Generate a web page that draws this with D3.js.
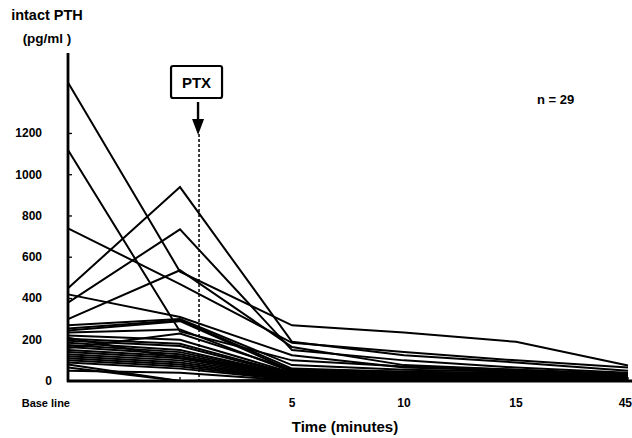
<!DOCTYPE html>
<html>
<head>
<meta charset="utf-8">
<script src="https://cdn.jsdelivr.net/npm/d3@7/dist/d3.min.js"></script>
<style>
  html, body { margin: 0; padding: 0; background: #fff; }
  svg { display: block; }
  text { font-family: "Liberation Sans", Arial, sans-serif; font-weight: bold; fill: #000; }
</style>
</head>
<body>
<svg id="chart" width="632" height="438"></svg>
<script>
// ---- data ----
const timeKeys = ["base", "intra", "5", "10", "15", "45"];
const timeLabels = ["Base line", "", "5", "10", "15", "45"];
const yTicks = [0, 200, 400, 600, 800, 1000, 1200];

// intact PTH (pg/ml) per patient: baseline, intra-op, 5, 10, 15, 45 min
const p01 = [1447, 530, 270, 235, 190, 75];
const p02 = [1120, 240, 100, 70, 55, 30];
const p03 = [740, 470, 185, 140, 100, 65];
const p04 = [450, 940, 190, 125, 90, 50];
const p05 = [380, 735, 150, 100, 65, 40];
const p06 = [300, 537, 165, 77, 55, 35];
const p07 = [420, 310, 125, 65, 50, 30];
const p08 = [270, 300, 77, 55, 45, 25];
const p09 = [255, 295, 60, 45, 35, 20];
const p10 = [245, 290, 50, 40, 30, 20];
const p11 = [235, 250, 45, 35, 30, 15];
const p12 = [220, 200, 40, 30, 25, 15];
const p13 = [205, 180, 35, 28, 22, 12];
const p14 = [195, 170, 30, 25, 20, 10];
const p15 = [185, 150, 28, 22, 18, 10];
const p16 = [175, 140, 25, 20, 15, 8];
const p17 = [165, 130, 22, 18, 14, 8];
const p18 = [150, 120, 20, 16, 12, 6];
const p19 = [140, 110, 18, 14, 10, 6];
const p20 = [130, 100, 15, 12, 10, 5];
const p21 = [120, 90, 12, 10, 8, 5];
const p22 = [110, 80, 10, 8, 6, 4];
const p23 = [100, 70, 8, 6, 5, 3];
const p24 = [90, 60, 6, 5, 4, 3];
const p25 = [80, 0, 5, 4, 3, 2];
const p26 = [65, 0, 4, 3, 2, 2];
const p27 = [50, 40, 3, 2, 2, 1];
const p28 = [160, 230, 55, 45, 40, 25];
const p29 = [210, 110, 42, 35, 28, 18];
const patients = [p01,p02,p03,p04,p05,p06,p07,p08,p09,p10,p11,p12,p13,p14,p15,
                  p16,p17,p18,p19,p20,p21,p22,p23,p24,p25,p26,p27,p28,p29];
const ptxIndex = 1.17; // PTX marker position between intra-op and 5 min

// ---- layout ----
const svg = d3.select("#chart");
const x = d3.scalePoint().domain(timeKeys).range([68, 628]);
const y = d3.scaleLinear().domain([0, 1590]).range([381, 53]);
const step = x.step();

// lines
const line = d3.line().x((d, i) => x(timeKeys[i])).y(d => y(d));
svg.append("g").selectAll("path").data(patients).join("path")
  .attr("d", line)
  .attr("fill", "none")
  .attr("stroke", "#000")
  .attr("stroke-width", 2)
  .attr("stroke-linejoin", "miter");

// y axis
const yAxis = svg.append("g");
yAxis.append("line").attr("x1", 68).attr("x2", 68).attr("y1", y(1590)).attr("y2", y(0) + 1)
  .attr("stroke", "#000").attr("stroke-width", 2.8);
yAxis.selectAll("line.t").data(yTicks.filter(d => d > 0)).join("line").attr("class", "t")
  .attr("x1", 68).attr("x2", 72).attr("y1", d => y(d)).attr("y2", d => y(d))
  .attr("stroke", "#000").attr("stroke-width", 1.3);
yAxis.selectAll("text").data(yTicks).join("text")
  .attr("x", d => d === 0 ? 52 : 42)
  .attr("y", d => y(d) + 4)
  .attr("text-anchor", "end")
  .attr("font-size", 12)
  .text(d => d);

// x axis
const xAxis = svg.append("g");
xAxis.append("line").attr("x1", 67).attr("x2", 632).attr("y1", y(0)).attr("y2", y(0))
  .attr("stroke", "#000").attr("stroke-width", 2.8);
xAxis.selectAll("line.t").data(timeKeys.slice(1)).join("line").attr("class", "t")
  .attr("x1", d => x(d)).attr("x2", d => x(d)).attr("y1", y(0)).attr("y2", y(0) - 4)
  .attr("stroke", "#000").attr("stroke-width", 1.3);
xAxis.selectAll("text").data(timeKeys).join("text")
  .attr("x", (d, i) => i === 0 ? x(d) + 2 : (i === timeKeys.length - 1 ? 632 : x(d)))
  .attr("y", 407)
  .attr("text-anchor", (d, i) => i === 0 ? "end" : (i === timeKeys.length - 1 ? "end" : "middle"))
  .attr("font-size", (d, i) => i === 0 ? 11 : 12)
  .text((d, i) => timeLabels[i]);

svg.append("text").attr("x", 345).attr("y", 432).attr("text-anchor", "middle")
  .attr("font-size", 15).text("Time (minutes)");

// y title
svg.append("text").attr("x", 47).attr("y", 20).attr("text-anchor", "middle")
  .attr("font-size", 14.5).text("intact PTH");
svg.append("text").attr("x", 47).attr("y", 43).attr("text-anchor", "middle")
  .attr("font-size", 13.5).text("(pg/ml )");

// n = 29
svg.append("text").attr("x", 537).attr("y", 104).attr("font-size", 13).text("n = 29");

// PTX annotation
const px = x("base") + ptxIndex * step;
svg.append("line").attr("x1", px).attr("x2", px).attr("y1", 134).attr("y2", y(0))
  .attr("stroke", "#000").attr("stroke-width", 1.5).attr("stroke-dasharray", "3,2");
svg.append("rect").attr("x", px - 28).attr("y", 66).attr("width", 51).attr("height", 32)
  .attr("rx", 2).attr("fill", "#fff").attr("stroke", "#000").attr("stroke-width", 2.2);
svg.append("text").attr("x", px - 2.5).attr("y", 88).attr("text-anchor", "middle")
  .attr("font-size", 15).text("PTX");
svg.append("line").attr("x1", px - 1).attr("x2", px - 1).attr("y1", 102).attr("y2", 122)
  .attr("stroke", "#000").attr("stroke-width", 2.4);
svg.append("path")
  .attr("d", `M${px - 7},${119} L${px + 5},${119} L${px - 1},${135} Z`)
  .attr("fill", "#000");
</script>
</body>
</html>
